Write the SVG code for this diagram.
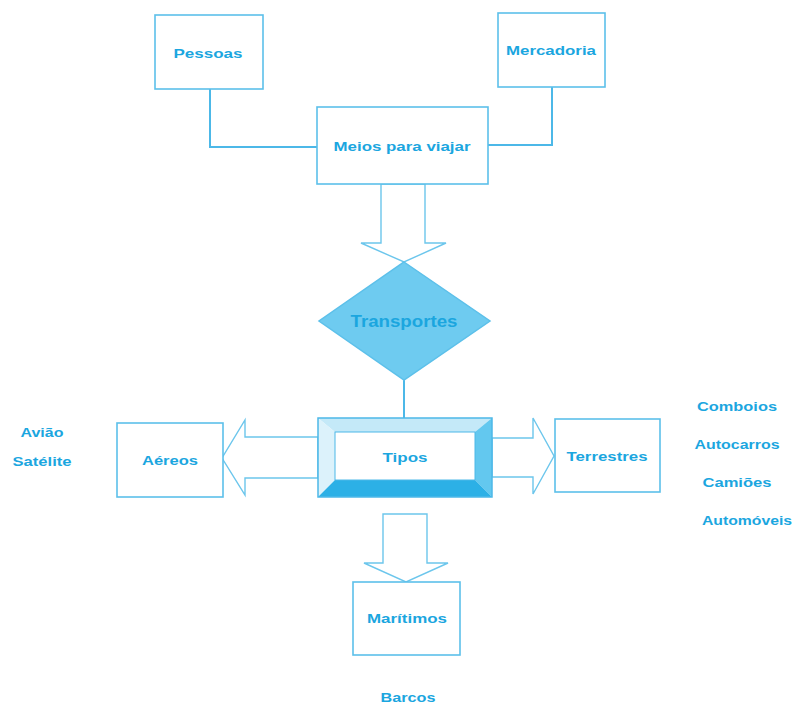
<svg xmlns="http://www.w3.org/2000/svg" width="794" height="705" viewBox="0 0 794 705">
<style>
.box{fill:#fff;stroke:#5cc0ea;stroke-width:1.6}
.ln{fill:none;stroke:#4cb8e8;stroke-width:2}
.arr{fill:#fff;stroke:#6cc6ec;stroke-width:1.4;stroke-linejoin:miter}
text{font-family:"Liberation Sans",Arial,sans-serif;font-weight:bold;font-size:13px;fill:#1ba6df;text-anchor:middle}
</style>
<rect width="794" height="705" fill="#fff"/>
<g id="connectors">
<polyline class="ln" points="210,89 210,147 317,147"/>
<polyline class="ln" points="552,87 552,145 488,145"/>
<line class="ln" x1="404" y1="380" x2="404" y2="418"/>
<polygon class="arr" points="381,184 381,243 361,243 404,262 446,243 425,243 425,184"/>
<polygon class="arr" points="318,437 245,437 245,420 222,458 245,495 245,478 318,478"/>
<polygon class="arr" points="492,438 533,438 533,418 554,456 533,494 533,477 492,477"/>
<polygon class="arr" points="383,514 383,563 364,563 406,582 448,563 427,563 427,514"/>
</g>
<g id="pessoas"><rect class="box" x="155" y="15" width="108" height="74"/><text x="208" y="58" textLength="69" lengthAdjust="spacingAndGlyphs">Pessoas</text></g>
<g id="mercadoria"><rect class="box" x="498" y="13" width="107" height="74"/><text x="551" y="55" textLength="90" lengthAdjust="spacingAndGlyphs">Mercadoria</text></g>
<g id="meios"><rect class="box" x="317" y="107" width="171" height="77"/><text x="402" y="151" textLength="137" lengthAdjust="spacingAndGlyphs">Meios para viajar</text></g>
<g id="transportes"><polygon points="404,262 490,321 404,380 319,321" fill="#6ecbf0" stroke="#5cc0ea" stroke-width="1.5"/><text x="404" y="327" style="font-size:16px" fill="#1a9fd8" textLength="107" lengthAdjust="spacingAndGlyphs">Transportes</text></g>
<g id="tipos">
<polygon points="318,418 492,418 475,432 335,432" fill="#c4e9f8"/>
<polygon points="318,418 335,432 335,480 318,497" fill="#dcf2fb"/>
<polygon points="492,418 492,497 475,480 475,432" fill="#63c8ef"/>
<polygon points="318,497 335,480 475,480 492,497" fill="#2cb0e6"/>
<rect x="318" y="418" width="174" height="79" fill="none" stroke="#4cb8e8" stroke-width="1.5"/>
<rect x="335" y="432" width="140" height="48" fill="#fff" stroke="#4cb8e8" stroke-width="1"/>
<text x="405" y="462" textLength="45" lengthAdjust="spacingAndGlyphs">Tipos</text></g>
<g id="aereos"><rect class="box" x="117" y="423" width="106" height="74"/><text x="170" y="465" textLength="56" lengthAdjust="spacingAndGlyphs">Aéreos</text></g>
<g id="terrestres"><rect class="box" x="555" y="419" width="105" height="73"/><text x="607" y="461" textLength="81" lengthAdjust="spacingAndGlyphs">Terrestres</text></g>
<g id="maritimos"><rect class="box" x="353" y="582" width="107" height="73"/><text x="407" y="623" textLength="80" lengthAdjust="spacingAndGlyphs">Marítimos</text></g>
<g id="labels">
<text x="42" y="437" textLength="43" lengthAdjust="spacingAndGlyphs">Avião</text>
<text x="42" y="466" textLength="59" lengthAdjust="spacingAndGlyphs">Satélite</text>
<text x="737" y="411" textLength="80" lengthAdjust="spacingAndGlyphs">Comboios</text>
<text x="737" y="449" textLength="85" lengthAdjust="spacingAndGlyphs">Autocarros</text>
<text x="737" y="487" textLength="69" lengthAdjust="spacingAndGlyphs">Camiões</text>
<text x="747" y="525" textLength="90" lengthAdjust="spacingAndGlyphs">Automóveis</text>
<text x="408" y="702" textLength="55" lengthAdjust="spacingAndGlyphs">Barcos</text>
</g>
</svg>
